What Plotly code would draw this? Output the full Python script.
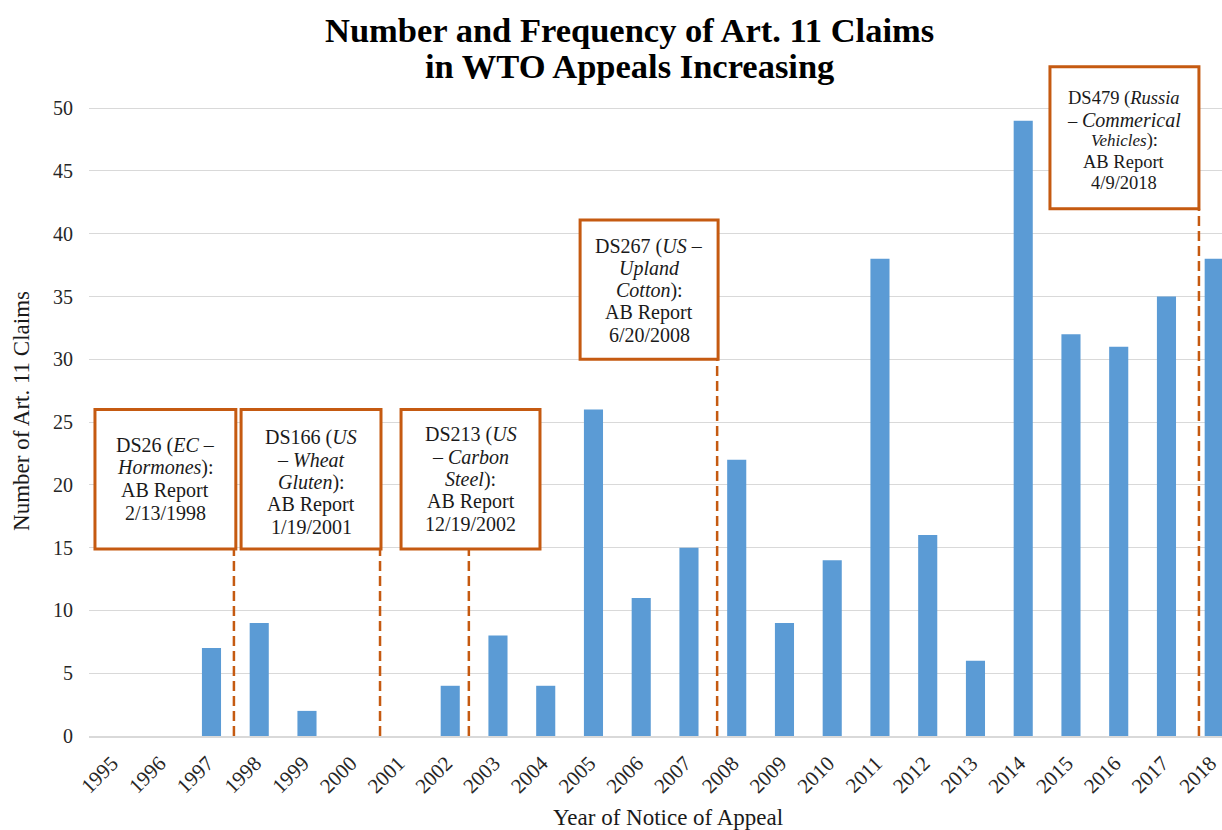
import plotly.graph_objects as go

# ---- data ----
years = list(range(1995, 2019))
claims = [0, 0, 7, 9, 2, 0, 0, 4, 8, 4, 26, 11, 15, 22, 9, 14, 38, 16, 6, 49, 32, 31, 35, 38]
y_ticks = [0, 5, 10, 15, 20, 25, 30, 35, 40, 45, 50]

callout_lines = [
    ["DS26 (<i>EC</i> –", "<i>Hormones</i>):", "AB Report", "2/13/1998"],
    ["DS166 (<i>US</i>", "– <i>Wheat</i>", "<i>Gluten</i>):", "AB Report", "1/19/2001"],
    ["DS213 (<i>US</i>", "– <i>Carbon</i>", "<i>Steel</i>):", "AB Report", "12/19/2002"],
    ["DS267 (<i>US</i> –", "<i>Upland</i>", "<i>Cotton</i>):", "AB Report", "6/20/2008"],
    ["DS479 (<i>Russia</i>",
     "– <i><span style='font-size:20px'>Commerical</span></i>",
     "<i><span style='font-size:17px'>Vehicles</span></i>):",
     "AB Report", "4/9/2018"],
]
# report-date marker positions on the year axis
callout_marker_x = [1997.47, 2000.53, 2002.39, 2007.59, 2017.68]

# ---- layout constants (box geometry in axis units) ----
box_x0 = [1994.56, 1997.62, 2000.97, 2004.72, 2014.56]
box_x1 = [1997.51, 2000.55, 2003.88, 2007.61, 2017.68]
box_y0 = [14.9, 14.9, 14.9, 30.0, 42.0]
box_y1 = [26.0, 26.0, 26.0, 41.1, 53.3]
box_font = [20, 20, 20, 20, 18.5]
line_gap = [22.5, 22.5, 22.5, 22, 21]
box_yshift = [0, -3, 0, -1, -3]

ORANGE = "#C55A11"
BLUE = "#5B9BD5"
FONT = "Liberation Serif"
TXT = "#1a1a1a"

fig = go.Figure()
fig.add_trace(go.Bar(x=years, y=claims, marker_color=BLUE, width=0.4,
                     marker_line_width=0, hoverinfo="x+y"))

shapes = []
annotations = []
for i in range(len(callout_lines)):
    shapes.append(dict(type="line", xref="x", yref="y",
                       x0=callout_marker_x[i], x1=callout_marker_x[i],
                       y0=0, y1=box_y0[i],
                       line=dict(color=ORANGE, width=2.5, dash="10px,5px"),
                       layer="above"))
    shapes.append(dict(type="rect", xref="x", yref="y",
                       x0=box_x0[i], x1=box_x1[i], y0=box_y0[i], y1=box_y1[i],
                       line=dict(color=ORANGE, width=3), fillcolor="white",
                       layer="above"))
    n = len(callout_lines[i])
    for k, line in enumerate(callout_lines[i]):
        annotations.append(dict(xref="x", yref="y",
                                x=(box_x0[i] + box_x1[i]) / 2,
                                y=(box_y0[i] + box_y1[i]) / 2,
                                yshift=-(k - (n - 1) / 2) * line_gap[i] + box_yshift[i],
                                text=line, showarrow=False,
                                xanchor="center", yanchor="middle",
                                font=dict(family=FONT, size=box_font[i], color=TXT)))

# titles
annotations.append(dict(xref="paper", yref="paper", x=0.4767, y=1.049,
                        text="<b>Number and Frequency of Art. 11 Claims</b>",
                        showarrow=False, xanchor="center", yanchor="middle",
                        font=dict(family=FONT, size=34.5, color="black")))
annotations.append(dict(xref="paper", yref="paper", x=0.4767, y=0.9955,
                        text="<b>in WTO Appeals Increasing</b>",
                        showarrow=False, xanchor="center", yanchor="middle",
                        font=dict(family=FONT, size=34.5, color="black")))
annotations.append(dict(xref="paper", yref="paper", x=-0.0591, y=0.483,
                        text="Number of Art. 11 Claims", textangle=-90,
                        showarrow=False, xanchor="center", yanchor="middle",
                        font=dict(family=FONT, size=23, color=TXT)))
annotations.append(dict(xref="paper", yref="paper", x=0.511, y=-0.1204,
                        text="Year of Notice of Appeal",
                        showarrow=False, xanchor="center", yanchor="middle",
                        font=dict(family=FONT, size=23, color=TXT)))

fig.update_layout(
    width=1222, height=830,
    margin=dict(l=89, r=0, t=63, b=94),
    paper_bgcolor="white", plot_bgcolor="white",
    showlegend=False,
    shapes=shapes,
    annotations=annotations,
    xaxis=dict(range=[1994.435, 2018.163], tickmode="array", tickvals=years,
               ticktext=[str(y) for y in years], tickangle=-45,
               showgrid=False, zeroline=False, showline=True,
               linecolor="#D9D9D9", linewidth=1.5,
               ticks="outside", ticklen=5, tickcolor="rgba(0,0,0,0)",
               ticklabelshift=-4,
               tickfont=dict(family=FONT, size=21, color="#262626")),
    yaxis=dict(range=[0, 53.6], tickmode="array", tickvals=y_ticks,
               showgrid=True, gridcolor="#D9D9D9", gridwidth=1,
               zeroline=False, showline=False,
               ticks="outside", ticklen=11, tickcolor="rgba(0,0,0,0)",
               tickfont=dict(family=FONT, size=20, color="#262626")),
)

fig.write_html(
    "out.html",
    config={"displayModeBar": False},
    post_script="document.body.style.margin='0';document.body.style.overflow='hidden';",
)
